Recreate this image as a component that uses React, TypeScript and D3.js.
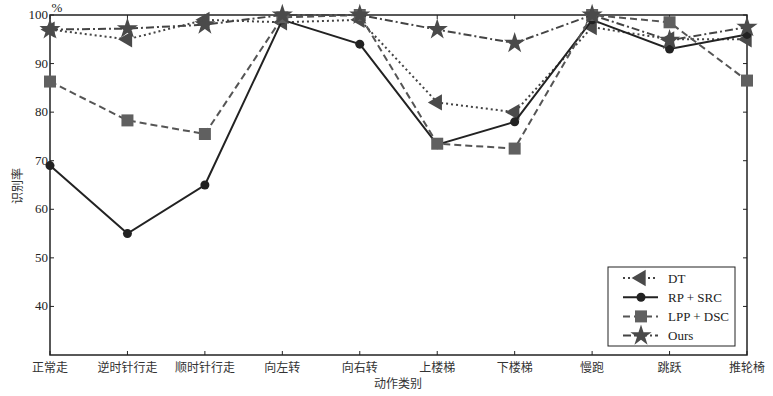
import React from 'react';
import * as d3 from 'd3';

const categories = ['正常走', '逆时针行走', '顺时针行走', '向左转', '向右转', '上楼梯', '下楼梯', '慢跑', '跳跃', '推轮椅'];
const dtValues = [97, 95, 99, 98.5, 99, 82, 80, 97.5, 95, 95];
const rpValues = [69, 55, 65, 99, 94, 73.3, 78, 99, 93, 96];
const lppValues = [86.3, 78.3, 75.5, 99.5, 100, 73.5, 72.5, 100, 98.5, 86.5];
const oursValues = [97, 97.2, 98, 100, 100, 97, 94.2, 100, 94.8, 97.5];
const yTicks = [40, 50, 60, 70, 80, 90, 100];

const series = [
  { name: 'DT', values: dtValues, dash: '2,3', color: '#444', width: 2, marker: 'tri' },
  { name: 'RP + SRC', values: rpValues, dash: null, color: '#222', width: 2, marker: 'circle' },
  { name: 'LPP + DSC', values: lppValues, dash: '7,4', color: '#555', width: 2, marker: 'square' },
  { name: 'Ours', values: oursValues, dash: '8,3,2,3', color: '#444', width: 2, marker: 'star' },
];

const W = 773, H = 396;
const left = 50, right = 747, top = 15, bottom = 355;

const x = d3.scalePoint<string>().domain(categories).range([left, right]);
const y = d3.scaleLinear().domain([30, 100]).range([bottom, top]);

const marker = (kind: string, cx: number, cy: number, key: string) => {
  if (kind === 'circle') return <circle key={key} cx={cx} cy={cy} r={4.5} fill="#222" />;
  if (kind === 'square')
    return <rect key={key} x={cx - 6} y={cy - 6} width={12} height={12} fill="#606060" />;
  if (kind === 'tri') {
    const p = d3.symbol().type(d3.symbolTriangle).size(115)();
    return <path key={key} d={p || ''} transform={`translate(${cx},${cy}) rotate(-90)`} fill="#4a4a4a" />;
  }
  const p = d3.symbol().type(d3.symbolStar).size(140)();
  return <path key={key} d={p || ''} transform={`translate(${cx},${cy})`} fill="#4a4a4a" />;
};

export default function App() {
  const line = d3.line<number>().x((_, i) => x(categories[i]) as number).y((d) => y(d));
  const serif = '"Liberation Serif", "Times New Roman", serif';
  const cjk = '"Noto Sans CJK SC", sans-serif';
  const legX = 608, legY = 267;

  return (
    <svg width={W} height={H} style={{ position: 'absolute', left: 0, top: 0 }}>
      <rect width={W} height={H} fill="#fff" />
      {/* ticks */}
      {categories.map((c) => (
        <g key={c}>
          <line x1={x(c)} x2={x(c)} y1={bottom} y2={bottom - 4} stroke="#222" />
          <line x1={x(c)} x2={x(c)} y1={top} y2={top + 4} stroke="#222" />
          <text x={x(c)} y={372} textAnchor="middle" fontSize={12} fontFamily={cjk} fill="#333">{c}</text>
        </g>
      ))}
      {yTicks.map((t) => (
        <g key={t}>
          <line x1={left} x2={left + 4} y1={y(t)} y2={y(t)} stroke="#222" />
          <line x1={right} x2={right - 4} y1={y(t)} y2={y(t)} stroke="#222" />
          <text x={left - 2} y={y(t) + 4} textAnchor="end" fontSize={13} fontFamily={serif} fill="#222">{t}</text>
        </g>
      ))}
      <text x={57} y={12} textAnchor="middle" fontSize={13} fontFamily={serif} fill="#222">%</text>
      <rect x={left} y={top} width={right - left} height={bottom - top} fill="none" stroke="#222" strokeWidth={1.5} />
      {/* series */}
      {series.map((s) => (
        <g key={s.name}>
          <path d={line(s.values) || ''} fill="none" stroke={s.color} strokeWidth={s.width}
            strokeDasharray={s.dash || undefined} />
          {s.values.map((v, i) => marker(s.marker, x(categories[i]) as number, y(v), `${s.name}-${i}`))}
        </g>
      ))}
      {/* axis titles */}
      <text x={398} y={388} textAnchor="middle" fontSize={12} fontFamily={cjk} fill="#333">动作类别</text>
      <text transform="translate(22,186) rotate(-90)" textAnchor="middle" fontSize={12} fontFamily={cjk} fill="#333">识别率</text>
      {/* legend */}
      <rect x={legX} y={legY} width={127} height={79} fill="#fff" stroke="#222" strokeWidth={1} />
      {series.map((s, i) => {
        const ly = legY + 11 + i * 19.2;
        return (
          <g key={s.name}>
            <line x1={legX + 15} x2={legX + 50} y1={ly} y2={ly} stroke={s.color} strokeWidth={s.width}
              strokeDasharray={s.dash || undefined} />
            {marker(s.marker, legX + 33, ly, `leg-${i}`)}
            <text x={legX + 60} y={ly + 4.5} fontSize={13} fontFamily={serif} fill="#222">{s.name}</text>
          </g>
        );
      })}
    </svg>
  );
}
